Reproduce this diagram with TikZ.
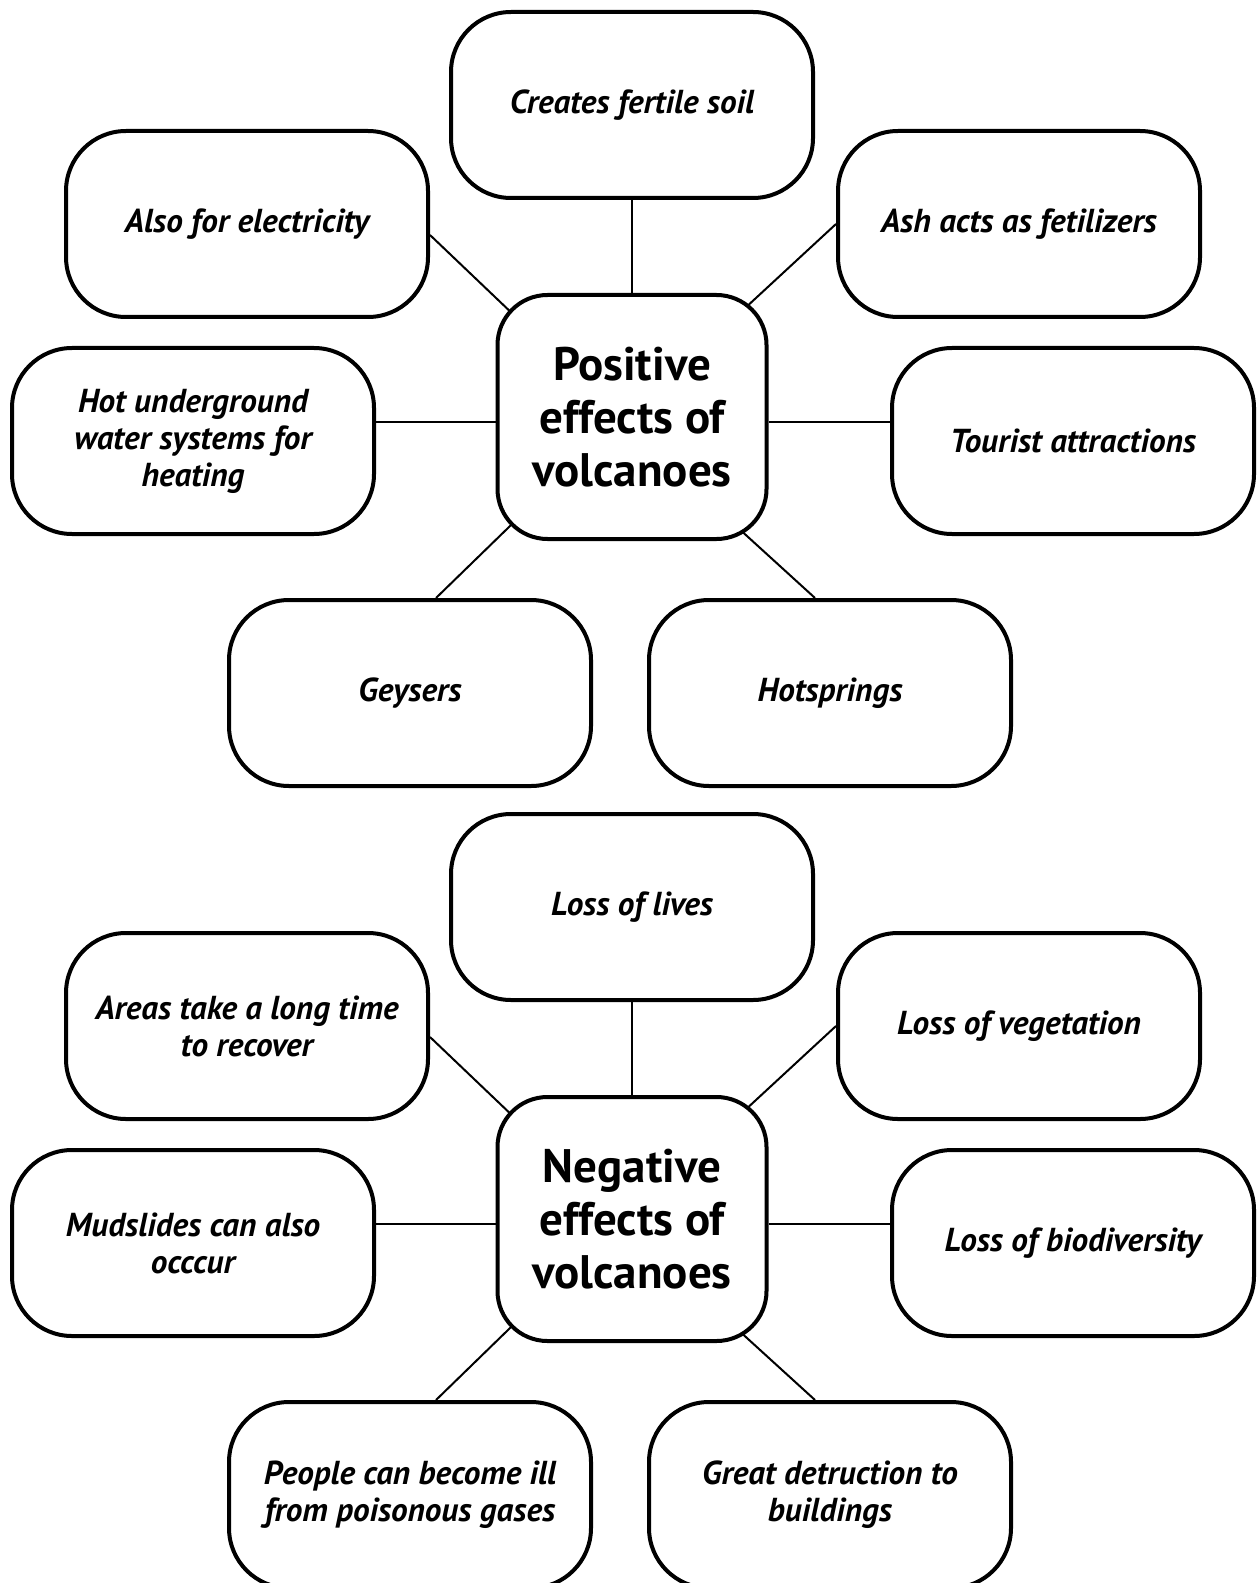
\documentclass[tikz,border=0pt]{standalone}
\usepackage{fontspec}
\setmainfont{PT Sans}
\usetikzlibrary{backgrounds}
\begin{document}
\begin{tikzpicture}[x=0.5pt,y=-0.5pt,
  leaf/.style={draw, line width=2pt, fill=white, rounded corners=30pt,
    minimum width=181pt, minimum height=93pt, align=center, inner sep=0pt,
    font=\fontsize{16.6}{18.5}\selectfont\bfseries\itshape},
  hub/.style={draw, line width=2pt, fill=white, rounded corners=25pt,
    minimum width=134.5pt, minimum height=122pt, align=center, inner sep=0pt,
    font=\fontsize{23.5}{26.5}\selectfont\bfseries},
  link/.style={line width=1pt}]
\useasboundingbox (0,0) rectangle (1257,1583);
\begin{scope}[on background layer]
  \fill[white] (0,0) rectangle (1257,1583);
\end{scope}
\clip (0,0) rectangle (1257,1583);

% ---------- positive ----------
\node[leaf] (p-top) at (632,105) {Creates fertile soil};
\node[leaf] (p-ul) at (247,224) {Also for electricity};
\node[leaf] (p-ur) at (1019,224) {Ash acts as fetilizers};
\node[leaf] (p-l) at (193,441) {Hot underground\\water systems for\\heating};
\node[leaf] (p-r) at (1073,441) {Tourist attractions};
\node[leaf] (p-bl) at (410,693) {Geysers};
\node[leaf] (p-br) at (830,693) {Hotsprings};
\node[hub] (p-c) at (632,417) {Positive\\effects of\\volcanoes};
\coordinate (p-cl) at ([yshift=-2.5pt]p-c.west);
\coordinate (p-cr) at ([yshift=-2.5pt]p-c.east);
\begin{scope}[on background layer]
  \draw[link] (p-top.south) -- (p-c.north);
  \draw[link] ([yshift=-5.5pt]p-ul.east) -- ([xshift=16pt,yshift=-17.5pt]p-c.north west);
  \draw[link] (p-ur.west) -- ([xshift=-16pt,yshift=-11.5pt]p-c.north east);
  \draw[link] (p-cl) -- (p-l.east |- p-cl);
  \draw[link] (p-cr) -- (p-r.west |- p-cr);
  \draw[link] ([xshift=13pt]p-bl.north) -- ([xshift=16pt,yshift=16pt]p-c.south west);
  \draw[link] ([xshift=-7.5pt]p-br.north) -- ([xshift=-24.5pt,yshift=15pt]p-c.south east);
\end{scope}

% ---------- negative ----------
\begin{scope}[yshift=-401pt]
\node[leaf] (n-top) at (632,105) {Loss of lives};
\node[leaf] (n-ul) at (247,224) {Areas take a long time\\to recover};
\node[leaf] (n-ur) at (1019,224) {Loss of vegetation};
\node[leaf] (n-l) at (193,441) {Mudslides can also\\occcur};
\node[leaf] (n-r) at (1073,441) {Loss of biodiversity};
\node[leaf] (n-bl) at (410,693) {People can become ill\\from poisonous gases};
\node[leaf] (n-br) at (830,693) {Great detruction to\\buildings};
\node[hub] (n-c) at (632,417) {Negative\\effects of\\volcanoes};
\coordinate (n-cl) at ([yshift=-2.5pt]n-c.west);
\coordinate (n-cr) at ([yshift=-2.5pt]n-c.east);
\end{scope}
\begin{scope}[on background layer]
  \draw[link] (n-top.south) -- (n-c.north);
  \draw[link] ([yshift=-5.5pt]n-ul.east) -- ([xshift=16pt,yshift=-17.5pt]n-c.north west);
  \draw[link] (n-ur.west) -- ([xshift=-16pt,yshift=-11.5pt]n-c.north east);
  \draw[link] (n-cl) -- (n-l.east |- n-cl);
  \draw[link] (n-cr) -- (n-r.west |- n-cr);
  \draw[link] ([xshift=13pt]n-bl.north) -- ([xshift=16pt,yshift=16pt]n-c.south west);
  \draw[link] ([xshift=-7.5pt]n-br.north) -- ([xshift=-24.5pt,yshift=15pt]n-c.south east);
\end{scope}
\end{tikzpicture}
\end{document}
